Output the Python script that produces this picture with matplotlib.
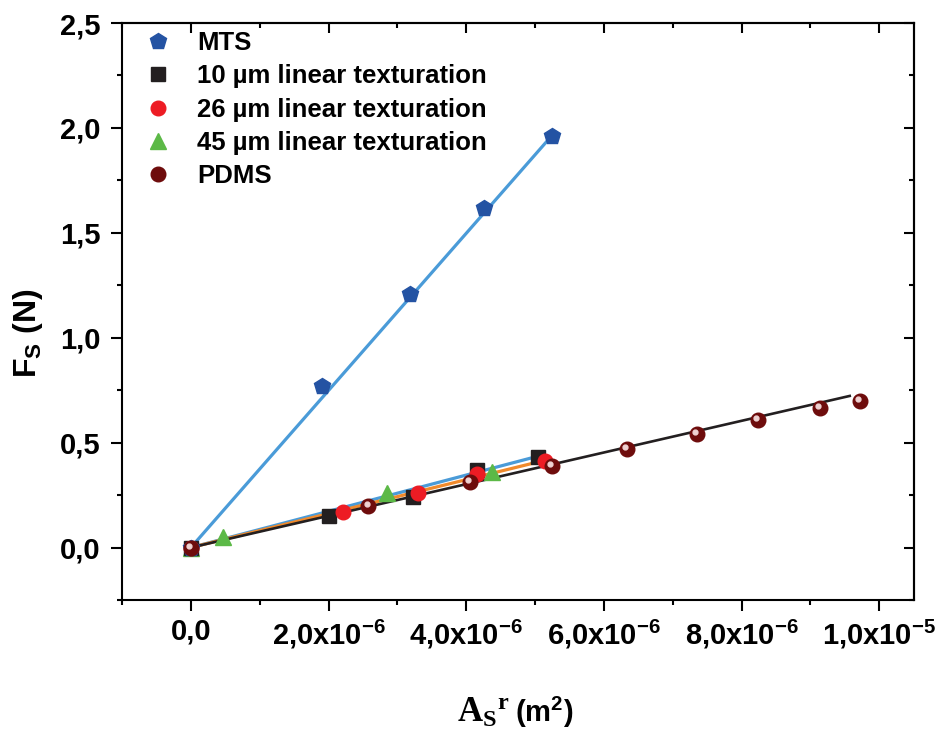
import matplotlib
matplotlib.use("Agg")
import matplotlib.pyplot as plt
import matplotlib.transforms as mtransforms
from matplotlib.ticker import MultipleLocator, FuncFormatter
import numpy as np

# ─── Data (x in m², y in N) ───────────────────────────────────────────
mts_x = [0.0, 1.91e-6, 3.19e-6, 4.26e-6, 5.24e-6]
mts_y = [0.0, 0.771, 1.21, 1.619, 1.962]

tex10_x = [0.0, 2.01e-6, 3.23e-6, 4.16e-6, 5.04e-6]
tex10_y = [0.0, 0.148, 0.243, 0.371, 0.433]

tex26_x = [0.0, 2.21e-6, 3.30e-6, 4.16e-6, 5.14e-6]
tex26_y = [0.0, 0.171, 0.262, 0.352, 0.414]

tex45_x = [0.0, 0.47e-6, 2.85e-6, 4.37e-6]
tex45_y = [0.0, 0.052, 0.26, 0.36]

pdms_x = [0.0, 2.58e-6, 4.05e-6, 5.24e-6, 6.33e-6, 7.35e-6, 8.24e-6, 9.14e-6, 9.72e-6]
pdms_y = [0.0, 0.200, 0.314, 0.390, 0.471, 0.543, 0.609, 0.667, 0.700]

# linear fits through the origin: end points
fit_names = ["MTS", "10 µm", "26 µm", "PDMS"]
fit_x_end = [5.24e-6, 4.98e-6, 5.07e-6, 9.59e-6]
fit_y_end = [1.962, 0.430, 0.410, 0.724]
fit_colors = ["#4a9bd8", "#4a9bd8", "#f08a2c", "#231f20"]

legend_labels = ["MTS", "10 µm linear texturation", "26 µm linear texturation",
                 "45 µm linear texturation", "PDMS"]

plt.rcParams.update({
    "font.family": ["Liberation Sans", "DejaVu Sans"],
    "font.weight": "bold",
    "mathtext.fontset": "custom",
    "mathtext.rm": "Liberation Sans:bold",
    "mathtext.it": "Liberation Sans:bold",
    "mathtext.bf": "Liberation Serif:bold",
    "mathtext.default": "regular",
})

fig = plt.figure(figsize=(9.39, 7.34), dpi=100)
ax = fig.add_axes([0.130, 0.1826, 0.843, 0.786])

for xe, ye, c in zip(fit_x_end, fit_y_end, fit_colors):
    ax.plot([0, xe], [0, ye], color=c, lw=2.3 if c != "#231f20" else 1.9, zorder=2,
            solid_capstyle="butt")

h45, = ax.plot(tex45_x, tex45_y, ls="none", marker="^", ms=11, color="#5cb947", zorder=3)
h10, = ax.plot(tex10_x, tex10_y, ls="none", marker="s", ms=9.5, color="#231f20", zorder=4)
h26, = ax.plot(tex26_x, tex26_y, ls="none", marker="o", ms=10.5, color="#ed1c24", zorder=5)
hmts, = ax.plot(mts_x, mts_y, ls="none", marker="p", ms=12, color="#2453a3", zorder=6)
hp, = ax.plot(pdms_x, pdms_y, ls="none", marker="o", ms=10.5, color="#6e0c0c", zorder=7)
shine = mtransforms.offset_copy(ax.transData, fig=fig, x=-1.2, y=1.2, units="points")
ax.plot(pdms_x, pdms_y, ls="none", marker="o", ms=3.5, color="#efd2d2",
        transform=shine, zorder=8)

ax.set_xlim(-1e-6, 1.05e-5)
ax.set_ylim(-0.25, 2.5)


def xfmt(v, pos):
    if abs(v) < 1e-12:
        return "0,0"
    e = int(np.floor(np.log10(abs(v)) + 1e-9))
    m = v / 10 ** e
    return f"{m:.1f}".replace(".", ",") + "x10$^{%d}$" % e


ax.xaxis.set_major_locator(MultipleLocator(2e-6))
ax.xaxis.set_minor_locator(MultipleLocator(1e-6))
ax.yaxis.set_major_locator(MultipleLocator(0.5))
ax.yaxis.set_minor_locator(MultipleLocator(0.25))
ax.xaxis.set_major_formatter(FuncFormatter(xfmt))
ax.yaxis.set_major_formatter(FuncFormatter(lambda v, p: f"{v:.1f}".replace(".", ",")))
ax.tick_params(which="major", direction="out", length=8, width=1.5, labelsize=21)
ax.tick_params(which="minor", direction="out", length=3.3, width=1.5)
ax.tick_params(axis="x", which="major", pad=4.5)
ax.tick_params(axis="y", which="major", pad=7.5)
for s in ax.spines.values():
    s.set_linewidth(1.5)

top = ax.secondary_xaxis("top")
top.xaxis.set_major_locator(MultipleLocator(2e-6))
top.xaxis.set_minor_locator(MultipleLocator(1e-6))
top.tick_params(which="major", direction="in", length=7.5, width=1.5, labeltop=False)
top.tick_params(which="minor", direction="in", length=3.3, width=1.5)
top.spines["top"].set_linewidth(1.5)
right = ax.secondary_yaxis("right")
right.yaxis.set_major_locator(MultipleLocator(0.5))
right.yaxis.set_minor_locator(MultipleLocator(0.25))
right.tick_params(which="major", direction="in", length=7.5, width=1.5, labelright=False)
right.tick_params(which="minor", direction="in", length=3.3, width=1.5)
right.spines["right"].set_linewidth(1.5)

ax.set_ylabel("F$_{S}$ (N)", fontsize=23, fontweight="bold")
ax.yaxis.set_label_coords(-0.097, 0.463)

# x label: serif A_S^r followed by sans (m²)
fig.text(457 / 939, 12 / 734, r"$\mathbf{A_S{}^{r}}$", fontsize=25,
         ha="left", va="baseline")
fig.text(515 / 939, 12 / 734, "(m$^{2}$)", fontsize=21, fontweight="bold",
         ha="left", va="baseline")

ax.legend([hmts, h10, h26, h45, hp], legend_labels,
          loc="upper left", bbox_to_anchor=(0.029, 0.986), frameon=False,
          fontsize=18.5, handlelength=1.0, handletextpad=1.02, labelspacing=0.36,
          borderpad=0, borderaxespad=0, numpoints=1)

fig.savefig("out.png", dpi=100)
